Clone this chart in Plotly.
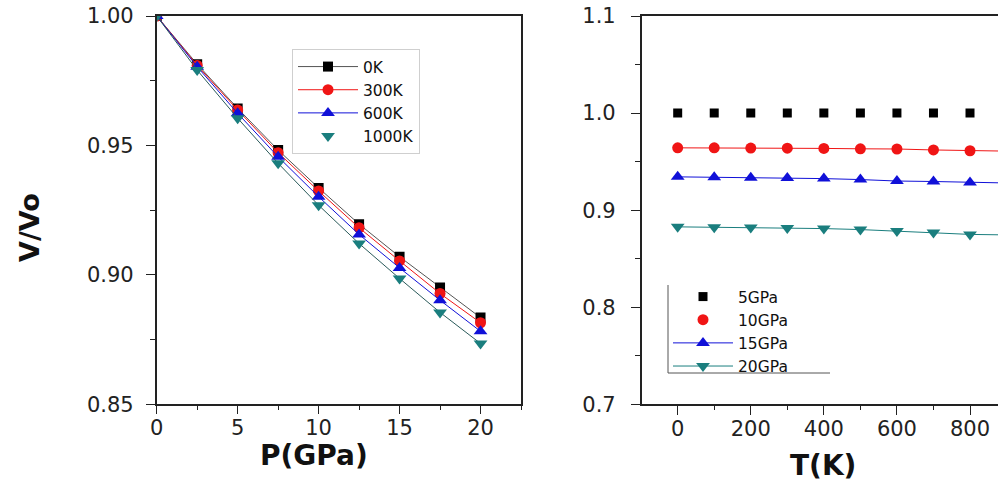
import plotly.graph_objects as go

# ---- Left panel data: V/V0 vs P at several temperatures ----
P = [0, 2.5, 5, 7.5, 10, 12.5, 15, 17.5, 20]
v_0K    = [1.0, 0.9814, 0.9643, 0.9482, 0.9336, 0.9196, 0.9070, 0.8951, 0.8835]
v_300K  = [1.0, 0.9809, 0.9637, 0.9472, 0.9324, 0.9182, 0.9054, 0.8928, 0.8815]
v_600K  = [1.0, 0.9804, 0.9624, 0.9456, 0.9302, 0.9156, 0.9027, 0.8902, 0.8782]
v_1000K = [1.0, 0.9791, 0.9605, 0.9431, 0.9269, 0.9121, 0.8986, 0.8855, 0.8735]
left_names = ["0K", "300K", "600K", "1000K"]

# ---- Right panel data: V/V0 vs T at several pressures ----
T = [0, 100, 200, 300, 400, 500, 600, 700, 800, 900]
v_5GPa  = [1.0, 1.0, 1.0, 1.0, 1.0, 1.0, 1.0, 1.0, 1.0, 1.0]
v_10GPa = [0.9642, 0.9642, 0.9640, 0.9638, 0.9636, 0.9632, 0.9630, 0.9620, 0.9612, 0.9608]
v_15GPa = [0.9343, 0.9340, 0.9335, 0.9330, 0.9325, 0.9315, 0.9300, 0.9295, 0.9285, 0.9280]
v_20GPa = [0.8828, 0.8825, 0.8820, 0.8815, 0.8810, 0.8800, 0.8785, 0.8770, 0.8750, 0.8745]
right_names = ["5GPa", "10GPa", "15GPa", "20GPa"]

left_ticks = [0, 5, 10, 15, 20]
left_yticks = [0.85, 0.90, 0.95, 1.00]
right_ticks = [0, 200, 400, 600, 800]
right_yticks = [0.7, 0.8, 0.9, 1.0, 1.1]

BLACK = "#000000"
RED = "#f01515"
BLUE = "#1010d8"
TEAL = "#1a7e7e"
FONT = "DejaVu Sans, Liberation Sans, Arial, sans-serif"

fig = go.Figure()

# Left panel
fig.add_trace(go.Scatter(x=P, y=v_0K, name=left_names[0], mode="lines+markers",
                         line=dict(color="#555555", width=1),
                         marker=dict(symbol="square", size=10, color=BLACK),
                         xaxis="x", yaxis="y", legend="legend"))
fig.add_trace(go.Scatter(x=P, y=v_300K, name=left_names[1], mode="lines+markers",
                         line=dict(color=RED, width=1),
                         marker=dict(symbol="circle", size=11, color=RED),
                         xaxis="x", yaxis="y", legend="legend"))
fig.add_trace(go.Scatter(x=P, y=v_600K, name=left_names[2], mode="lines+markers",
                         line=dict(color=BLUE, width=1),
                         marker=dict(symbol="triangle-up", size=12, color=BLUE),
                         xaxis="x", yaxis="y", legend="legend"))
fig.add_trace(go.Scatter(x=P, y=v_1000K, mode="lines", showlegend=False,
                         line=dict(color="#2a5a5a", width=1),
                         xaxis="x", yaxis="y", hoverinfo="skip"))
fig.add_trace(go.Scatter(x=P, y=v_1000K, name=left_names[3], mode="markers",
                         marker=dict(symbol="triangle-down", size=12, color=TEAL),
                         xaxis="x", yaxis="y", legend="legend"))

# Right panel
fig.add_trace(go.Scatter(x=T, y=v_5GPa, name=right_names[0], mode="markers",
                         marker=dict(symbol="square", size=9, color=BLACK),
                         xaxis="x2", yaxis="y2", legend="legend2"))
fig.add_trace(go.Scatter(x=T, y=v_10GPa, mode="lines", showlegend=False,
                         line=dict(color=RED, width=1),
                         xaxis="x2", yaxis="y2", hoverinfo="skip"))
fig.add_trace(go.Scatter(x=T, y=v_10GPa, name=right_names[1], mode="markers",
                         marker=dict(symbol="circle", size=11, color=RED),
                         xaxis="x2", yaxis="y2", legend="legend2"))
fig.add_trace(go.Scatter(x=T, y=v_15GPa, name=right_names[2], mode="lines+markers",
                         line=dict(color=BLUE, width=1),
                         marker=dict(symbol="triangle-up", size=12, color=BLUE),
                         xaxis="x2", yaxis="y2", legend="legend2"))
fig.add_trace(go.Scatter(x=T, y=v_20GPa, name=right_names[3], mode="lines+markers",
                         line=dict(color=TEAL, width=1),
                         marker=dict(symbol="triangle-down", size=12, color=TEAL),
                         xaxis="x2", yaxis="y2", legend="legend2"))

W, H = 998, 490
ytop = 1 - 16 / H
ybot = 1 - 404.3 / H

axis_common = dict(showline=True, linecolor="#222222", linewidth=1.6,
                   ticks="outside", tickcolor="#222222", tickwidth=1.4,
                   showgrid=False, zeroline=False, automargin=False,
                   tickfont=dict(family=FONT, size=21, color="#222222"))

fig.update_layout(
    width=W, height=H,
    margin=dict(l=0, r=0, t=0, b=0, pad=0, autoexpand=False),
    paper_bgcolor="white", plot_bgcolor="white",
    font=dict(family=FONT, color="#111111"),
    xaxis=dict(domain=[156.7 / W, 521 / W], range=[0, 22.5], mirror=True,
               tickvals=left_ticks, ticklen=8, ticklabelstandoff=-4,
               minor=dict(dtick=2.5, tick0=0, ticks="outside", ticklen=4,
                          tickcolor="#222222", tickwidth=1.2),
               anchor="y", **axis_common),
    yaxis=dict(domain=[ybot, ytop], range=[0.85, 1.00], mirror=True,
               tickvals=left_yticks, tickformat=".2f", ticklen=9,
               ticklabelstandoff=8,
               minor=dict(dtick=0.025, tick0=0.85, ticks="outside", ticklen=5,
                          tickcolor="#222222", tickwidth=1.2),
               anchor="x", **axis_common),
    xaxis2=dict(domain=[641.7 / W, 1.0], range=[-98.5, 876.6], mirror=True,
                tickvals=right_ticks, ticklen=9, ticklabelstandoff=-4,
                minor=dict(dtick=100, tick0=0, ticks="outside", ticklen=4,
                           tickcolor="#222222", tickwidth=1.2),
                anchor="y2", **axis_common),
    yaxis2=dict(domain=[ybot, ytop], range=[0.7, 1.1], mirror=False,
                tickvals=right_yticks, tickformat=".1f", ticklen=9,
                ticklabelstandoff=11,
                minor=dict(dtick=0.05, tick0=0.7, ticks="outside", ticklen=5,
                           tickcolor="#222222", tickwidth=1.2),
                anchor="x2", **axis_common),
    legend=dict(x=292 / W, y=1 - 49 / H, xanchor="left", yanchor="top",
                bgcolor="rgba(255,255,255,0)", bordercolor="#cfcfcf", borderwidth=1,
                font=dict(family=FONT, size=15.5, color="#111111"),
                tracegroupgap=0, itemwidth=60),
    legend2=dict(x=668 / W, y=1 - 280 / H, xanchor="left", yanchor="top",
                 bgcolor="rgba(255,255,255,0)", borderwidth=0,
                 font=dict(family=FONT, size=15.5, color="#111111"),
                 tracegroupgap=0, itemwidth=60),
    showlegend=True,
)

# axis titles
fig.add_annotation(x=29 / W, y=1 - 228 / H, xref="paper", yref="paper",
                   xanchor="center", yanchor="middle",
                   text="<b>V/Vo</b>", textangle=-90, showarrow=False,
                   font=dict(family=FONT, size=27, color="#111111"))
fig.add_annotation(x=314 / W, y=1 - 455 / H, xref="paper", yref="paper",
                   xanchor="center", yanchor="middle",
                   text="<b>P(GPa)</b>", showarrow=False,
                   font=dict(family=FONT, size=28, color="#111111"))
fig.add_annotation(x=823 / W, y=1 - 465 / H, xref="paper", yref="paper",
                   xanchor="center", yanchor="middle",
                   text="<b>T(K)</b>", showarrow=False,
                   font=dict(family=FONT, size=28, color="#111111"))

# right legend frame (left and bottom edges only)
fig.add_shape(type="line", xref="paper", yref="paper",
              x0=668 / W, x1=668 / W, y0=1 - 285 / H, y1=1 - 373 / H,
              line=dict(color="#555555", width=1))
fig.add_shape(type="line", xref="paper", yref="paper",
              x0=668 / W, x1=830 / W, y0=1 - 373 / H, y1=1 - 373 / H,
              line=dict(color="#555555", width=1))

fig.write_html("out.html", config={"displayModeBar": False},
               post_script="document.body.style.margin='0px';")
